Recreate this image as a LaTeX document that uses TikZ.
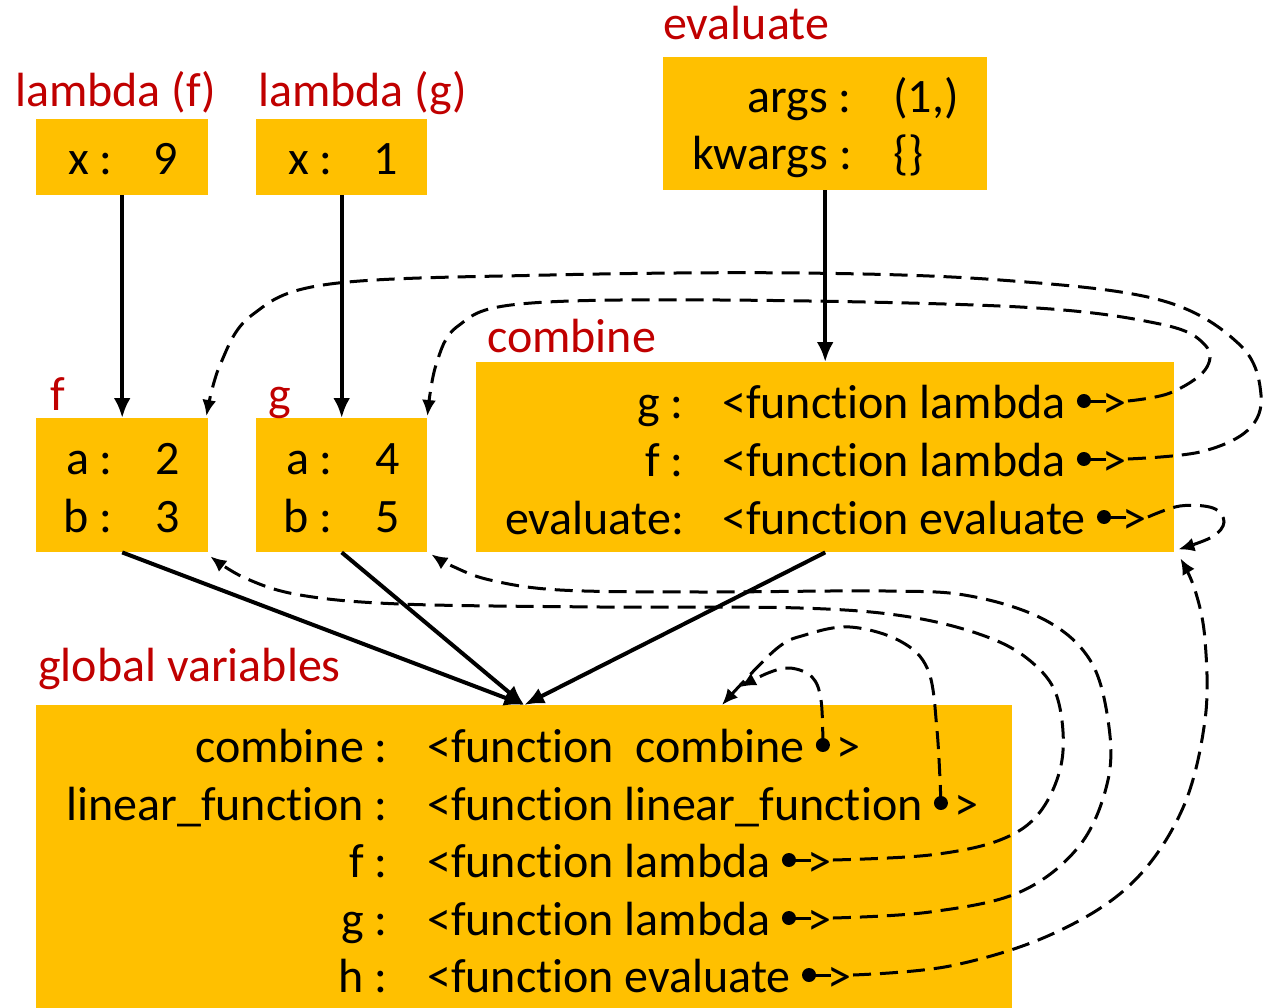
\documentclass[tikz,border=0pt]{standalone}
\usepackage{fontspec}
\setmainfont{Carlito}[Ligatures=CommonOff,RawFeature={-clig;-calt;-dlig}]
\usetikzlibrary{arrows.meta,calc}
\definecolor{boxy}{HTML}{FFC000}
\definecolor{lab}{HTML}{C00000}
\begin{document}
\begin{tikzpicture}[x=1pt,y=-1pt,
  box/.style={fill=boxy,draw=none,inner sep=0pt,anchor=north west},
  lbl/.style={text=lab,font=\fontsize{48}{58}\selectfont,inner sep=0pt,anchor=base west},
  key/.style={font=\fontsize{48}{58}\selectfont,inner sep=0pt,anchor=base east},
  val/.style={font=\fontsize{48}{58}\selectfont,inner sep=0pt,anchor=base west},
  link/.style={line width=4pt,-{Latex[length=20pt,width=17pt]}},
  ref/.style={line width=3pt,dash pattern=on 18pt off 9pt,-{Latex[length=16pt,width=14pt]}},
  stub/.style={line width=3pt},
  dotc/.style={fill=black},
]
\useasboundingbox (0,0) rectangle (1263,1008);

% boxes
\node[box,minimum width=172pt,minimum height=76pt] (lf) at (36,119) {};
\node[box,minimum width=171pt,minimum height=76pt] (lg) at (256,119) {};
\node[box,minimum width=324pt,minimum height=133pt] (ev) at (663,57) {};
\node[box,minimum width=172pt,minimum height=134pt] (fb) at (36,418) {};
\node[box,minimum width=171pt,minimum height=134pt] (gb) at (256,418) {};
\node[box,minimum width=698pt,minimum height=190pt] (cb) at (476,362) {};
\node[box,minimum width=976pt,minimum height=303pt] (gl) at (36,705) {};

% labels
\node[lbl] (llf) at (15,107) {lambda (f)};
\node[lbl] (llg) at (258,107) {lambda (g)};
\node[lbl] (lev) at (663,40) {evaluate};
\node[lbl] (lfb) at (50,410) {f};
\node[lbl] (lgb) at (268,410) {g};
\node[lbl] (lcb) at (487,352) {combine};
\node[lbl] (lgl) at (38,681) {global variables};

% lambda frames
\node[key] (lfk) at (113,175) {x :};
\node[val] (lfv) at (153,175) {9};
\node[key] (lgk) at (333,175) {x :};
\node[val] (lgv) at (373,175) {1};

% evaluate frame
\node[key] (eak) at (852,113) {args :};
\node[val] (eav) at (893,113) {(1,)};
\node[key] (ekk) at (852,170) {kwargs :};
\node[val] (ekv) at (893,170) {\{\}};

% f and g frames
\node[key] (fak) at (113,474) {a :};
\node[val] (fav) at (155,474) {2};
\node[key] (fbk) at (113,532) {b :};
\node[val] (fbv) at (155,532) {3};
\node[key] (gak) at (333,474) {a :};
\node[val] (gav) at (375,474) {4};
\node[key] (gbk) at (333,532) {b :};
\node[val] (gbv) at (375,532) {5};

% combine frame
\node[key] (cgk) at (684,418) {g :};
\node[val] (cgv) at (722,418) {<function lambda};
\node[key] (cfk) at (684,476) {f :};
\node[val] (cfv) at (722,476) {<function lambda};
\node[key] (cek) at (684,534) {evaluate:};
\node[val] (cev) at (722,534) {<function evaluate};

% global frame
\node[key] (gck) at (388,762) {combine :};
\node[val] (gcv) at (427,762) {<function\ \ combine};
\node[key] (glk) at (388,820) {linear\_function :};
\node[val] (glv) at (427,820) {<function linear\_function};
\node[key] (gfk) at (388,877) {f :};
\node[val] (gfv) at (427,877) {<function lambda};
\node[key] (ggk) at (388,935) {g :};
\node[val] (ggv) at (427,935) {<function lambda};
\node[key] (ghk) at (388,992) {h :};
\node[val] (ghv) at (427,992) {<function evaluate};

% dots
\foreach \n in {cg,cf,ce,gc,gl,gf,gg,gh}{
  \coordinate (\n d) at ($(\n v.base east)+(18,-17)$);
}
\foreach \n in {cg,cf,ce,gf,gg,gh}{
  \node[val] (\n a) at ($(\n v.base east)+(36,0)$) {>};
  \coordinate (\n s) at ($(\n d)+(44,0)$);
  \draw[stub] (\n d) -- ++(22,0);
}
\foreach \n in {gc,gl}{
  \node[val] (\n a) at ($(\n v.base east)+(31,0)$) {>};
}

% solid links
\draw[link] (lf.south) -- (fb.north);
\draw[link] (lg.south) -- (gb.north);
\draw[link] (ev.south) -- (cb.north);
\draw[link] (fb.south) -- (gl.north);
\draw[link] (gb.south) -- (gl.north);
\draw[link] (cb.south) -- (gl.north);

% target coordinates
\coordinate (glA) at ($(gl.north west)+(704,-18)$);
\coordinate (glB) at ($(gl.north west)+(686,0)$);
\coordinate (cbE) at ($(cb.south east)+(4,-3)$);
\coordinate (cbH) at ($(cb.south east)+(6,6)$);
\coordinate (fbF) at ($(fb.south east)+(2,4)$);
\coordinate (gbG) at ($(gb.south east)+(4,2)$);
\coordinate (fbT) at ($(fb.north east)+(-2,-2)$);
\coordinate (gbT) at ($(gb.north east)+(0,-2)$);

% dashed references
\draw[ref] plot[smooth,tension=0.6] coordinates {(cgs) (1170,393) (1205,370) (1205,345) (1160,324) (1020,307) (720,300) (520,304) (458,326) (436,365) (gbT)};
\draw[ref] plot[smooth,tension=0.6] coordinates {(cfs) (1200,452) (1248,430) (1261,395) (1240,345) (1160,300) (1000,280) (800,273) (550,275) (330,284) (252,315) (220,365) (fbT)};
\draw[ref] plot[smooth,tension=0.6] coordinates {(ces) (1180,506) (1213,508) (1224,522) (1212,537) (cbE)};
\draw[ref] plot[smooth,tension=0.6] coordinates {(gcd) (821,700) (812,677) (790,668) (768,673) (glA)};
\draw[ref] plot[smooth,tension=0.6] coordinates {(gld) (937,730) (928,670) (900,641) (850,627) (805,635) (775,650) (glB)};
\draw[ref] plot[smooth,tension=0.6] coordinates {(gfs) (930,855) (1000,840) (1040,812) (1062,760) (1058,700) (1035,665) (990,638) (910,617) (800,608) (600,607) (400,604) (300,595) (245,578) (fbF)};
\draw[ref] plot[smooth,tension=0.6] coordinates {(ggs) (930,912) (1020,892) (1080,845) (1108,780) (1108,720) (1090,660) (1045,620) (970,596) (886,591) (700,592) (560,590) (490,580) (452,566) (gbG)};
\draw[ref] plot[smooth,tension=0.6] coordinates {(ghs) (950,966) (1050,935) (1130,885) (1182,810) (1205,720) (1205,640) (1195,590) (cbH)};

\foreach \n in {cg,cf,ce,gc,gl,gf,gg,gh}{
  \fill[dotc] (\n d) circle (7pt);
}
\end{tikzpicture}
\end{document}
